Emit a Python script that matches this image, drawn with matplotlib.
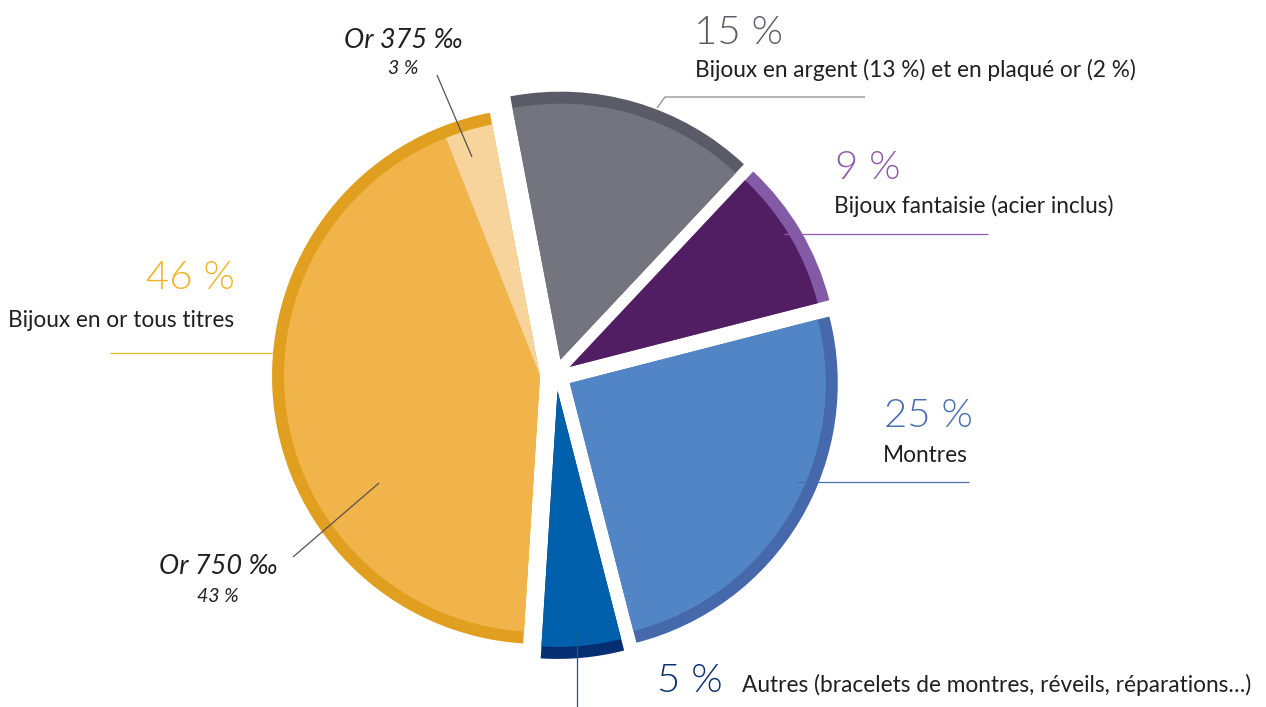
import matplotlib
matplotlib.use("Agg")
import matplotlib.pyplot as plt
from matplotlib.patches import Wedge
import numpy as np

# ---- data ----
groups = ["Bijoux en argent (13 %) et en plaqué or (2 %)",
          "Bijoux fantaisie (acier inclus)",
          "Montres",
          "Autres (bracelets de montres, réveils, réparations…)",
          "Bijoux en or tous titres"]
group_values = [15, 9, 25, 5, 46]
group_pct_labels = ["15 %", "9 %", "25 %", "5 %", "46 %"]
gold_sub_names = ["Or 750 ‰", "Or 375 ‰"]
gold_sub_values = [43, 3]
gold_sub_pct = ["43 %", "3 %"]

# ---- style ----
inner_colors = ["#74747E", "#521E63", "#5185C5", "#0060AC", "#F0B44A"]
ring_colors = ["#5B5B67", "#835AA6", "#4569AA", "#062F73", "#E19F20"]
gold_sub_inner = ["#F0B44A", "#F7D49B"]
pct_colors = ["#5D5D69", "#8E5BAA", "#4A6FB0", "#0D2F6E", "#F0B429"]
line_colors = ["#8A8A92", "#8E5BAA", "#4A6FB0", "#2E4F8E", "#F0B429"]
TXT = "#231F20"
FONT = "Lato"

W, H = 1266, 707
fig = plt.figure(figsize=(W / 100, H / 100), dpi=100)
ax = fig.add_axes([0, 0, 1, 1])
ax.set_xlim(0, W)
ax.set_ylim(0, H)
ax.set_aspect("equal")
ax.axis("off")

def Y(y):
    return H - y

cx, cy = 556, Y(375)
R = 268
RING = 12
EXPL = 16
start = 100.8

total = sum(group_values)
angle = start
for i, v in enumerate(group_values):
    t2 = angle
    t1 = angle - 360.0 * v / total
    angle = t1
    mid = np.deg2rad((t1 + t2) / 2)
    c = (cx + EXPL * np.cos(mid), cy + EXPL * np.sin(mid))
    ax.add_patch(Wedge(c, R, t1, t2, facecolor=ring_colors[i], linewidth=0))
    if i < 4:
        ax.add_patch(Wedge(c, R - RING, t1, t2, facecolor=inner_colors[i], linewidth=0))
    else:
        a = t2
        sub_total = sum(gold_sub_values)
        for j, sv in enumerate(gold_sub_values):
            s2 = a
            s1 = a - (t2 - t1) * sv / sub_total
            a = s1
            ax.add_patch(Wedge(c, R - RING, s1, s2, facecolor=gold_sub_inner[j], linewidth=0))

lw = 0.9
def line(xs, ys, color):
    ax.plot(xs, [Y(v) for v in ys], color=color, lw=lw, solid_capstyle="butt")

line([657, 665, 865], [108, 97, 97], line_colors[0])
line([784, 988], [234, 234], line_colors[1])
line([797, 969], [482, 482], line_colors[2])
line([577, 577], [633, 707], line_colors[3])
line([110, 273], [353, 353], line_colors[4])
line([437, 472], [75, 157], "#5A5050")
line([293, 379], [557, 483], "#5A5050")

big = 29
lab = 16.3
def txt(x, y, s, size, color, ha="left", style="normal", weight=400):
    ax.text(x, Y(y), s, fontsize=size, color=color, ha=ha, va="baseline",
            family=[FONT, "DejaVu Sans"], style=style, fontweight=weight)

txt(694, 44, group_pct_labels[0], big, pct_colors[0], weight=300)
txt(695, 77, groups[0], lab, TXT)
txt(835, 179, group_pct_labels[1], big, pct_colors[1], weight=300)
txt(834, 213, groups[1], lab, TXT)
txt(973, 427, group_pct_labels[2], big, pct_colors[2], ha="right", weight=300)
txt(968, 462, groups[2], lab, TXT, ha="right")
txt(657, 692, group_pct_labels[3], big, pct_colors[3], weight=300)
txt(742, 692, groups[3], lab, TXT)
txt(235, 289, group_pct_labels[4], big, pct_colors[4], ha="right", weight=300)
txt(234, 327, groups[4], lab, TXT, ha="right")

txt(218, 574, gold_sub_names[0], 19.5, TXT, ha="center", style="italic", weight=400)
txt(218, 602, gold_sub_pct[0], 14, TXT, ha="center", style="italic", weight=400)
txt(403, 48, gold_sub_names[1], 19.5, TXT, ha="center", style="italic", weight=400)
txt(403, 74, gold_sub_pct[1], 14, TXT, ha="center", style="italic", weight=400)

fig.savefig("out.png", dpi=100)
